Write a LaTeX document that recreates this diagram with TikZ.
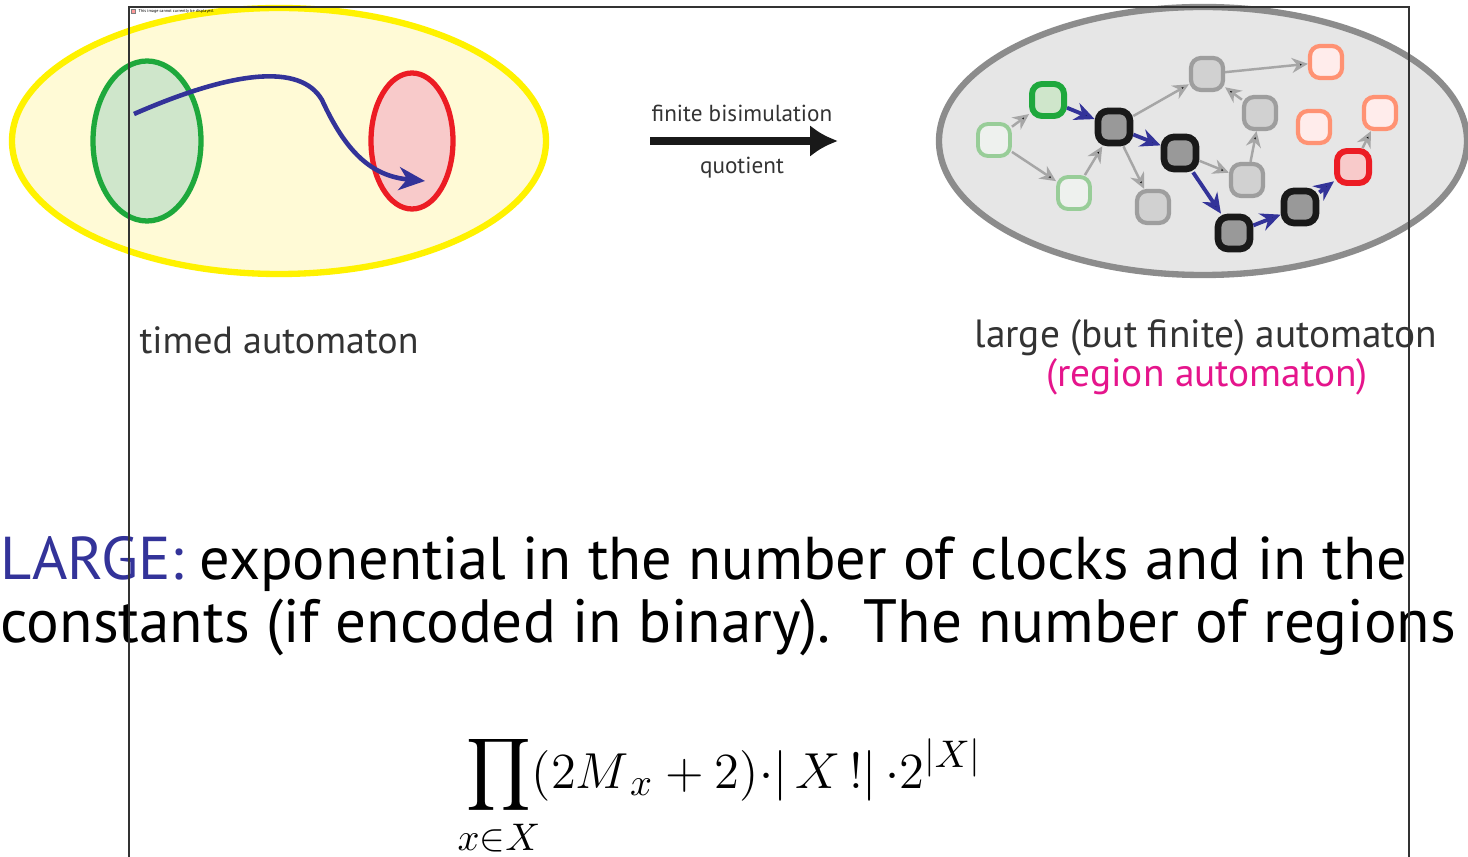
\documentclass[tikz,border=0pt]{standalone}
\usepackage{fontspec}
\setmainfont{PT Sans}
\usepackage{amsmath}
\usetikzlibrary{arrows.meta}

\definecolor{taBlue}{HTML}{333399}
\definecolor{taYellow}{HTML}{FFF200}
\definecolor{taCream}{HTML}{FFFAD6}
\definecolor{taGreen}{HTML}{1EA83C}
\definecolor{taMint}{HTML}{CFE6CB}
\definecolor{taRed}{HTML}{EC1C24}
\definecolor{taPink}{HTML}{F8CACA}
\definecolor{raGrey}{HTML}{8C8C8C}
\definecolor{raFill}{HTML}{E6E6E6}
\definecolor{txtGrey}{HTML}{333333}
\definecolor{raMagenta}{HTML}{E5158C}

\begin{document}
\begin{tikzpicture}[x=0.1mm, y=-0.1mm,
    st/.style = {draw, rounded corners=1.0mm, minimum size=3.2mm, inner sep=0pt},
    lgreen/.style = {st, draw=green!35!gray!60, fill=green!8!gray!12, line width=1.1pt},
    init/.style = {st, draw=taGreen, fill=taMint, line width=1.7pt},
    blk/.style = {st, draw=black!90, fill=black!40, line width=1.9pt},
    gry/.style = {st, draw=black!38, fill=black!18, line width=1.2pt},
    fin/.style = {st, draw=taRed, fill=taPink, line width=1.7pt},
    orng/.style = {st, draw=orange!45!red!55!white, fill=orange!12!red!8!white, line width=1.2pt},
    gline/.style = {draw=black!35, line width=0.7pt, -{Stealth[length=1.6mm,width=1.5mm]}},
    bline/.style = {draw=taBlue, line width=1.1pt, -{Stealth[length=2mm,width=1.8mm]}},
    lbl/.style = {text=txtGrey, inner sep=0pt}]
\useasboundingbox (0,0) rectangle (1468,857);

% timed automaton
\draw[taYellow, fill=taCream, line width=1.8pt] (279,141) ellipse [x radius=267, y radius=133];
\draw[taGreen, fill=taMint, line width=1.5pt] (147,141) ellipse [x radius=54, y radius=80];
\draw[taRed, fill=taPink, line width=1.5pt] (412,141) ellipse [x radius=41, y radius=68];
\coordinate (run) at (134,114);
\coordinate (goal) at (425,181);
\draw[taBlue, line width=1.3pt, -{Stealth[length=2.6mm,width=2.3mm,inset=0.8mm]}]
    (run) .. controls (230,72) and (300,62) .. (322,100)
    .. controls (345,150) and (370,176) .. (goal);
\node[lbl, font=\fontsize{10.8}{12}\selectfont] (ta) at (279,340) {timed automaton};

% quotient arrow
\coordinate (qfrom) at (650,141);
\coordinate (qto) at (838,141);
\draw[black!90, line width=2.4pt, -{Latex[length=2.8mm,width=3.2mm]}] (qfrom) -- (qto);
\node[lbl, font=\fontsize{6.6}{8}\selectfont] (bisim) at (742,113) {finite bisimulation};
\node[lbl, font=\fontsize{6.6}{8}\selectfont] (quot) at (742,168) {quotient};

% region automaton
\draw[raGrey, fill=raFill, line width=1.8pt] (1203,141) ellipse [x radius=264, y radius=134];
\node[lgreen] (A) at (994,140) {};
\node[init] (B) at (1048,100) {};
\node[lgreen] (C) at (1074,193) {};
\node[blk] (D) at (1114,127) {};
\node[gry] (E) at (1153,207) {};
\node[gry] (F) at (1207,74) {};
\node[blk] (G) at (1180,153) {};
\node[gry] (H) at (1260,113) {};
\node[gry] (I) at (1247,180) {};
\node[blk] (J) at (1234,233) {};
\node[blk] (K) at (1300,207) {};
\node[fin] (L) at (1353,167) {};
\node[orng] (M) at (1326,62) {};
\node[orng] (N) at (1314,127) {};
\node[orng] (O) at (1380,113) {};

\path[gline] (A) edge (B);
\path[gline] (A) edge (C);
\path[gline] (C) edge (D);
\path[gline] (D) edge (F);
\path[gline] (D) edge (E);
\path[gline] (G) edge (I);
\path[gline] (I) edge (H);
\path[gline] (H) edge (F);
\path[gline] (F) edge (M);
\path[gline] (L) edge (O);

\path[bline] (B) edge (D);
\path[bline] (D) edge (G);
\path[bline] (G) edge (J);
\path[bline] (J) edge (K);
\path[bline] (K) edge (L);

\node[lbl, font=\fontsize{11.2}{12}\selectfont] (large) at (1206,338) {large (but finite) automaton};
\node[lbl, text=raMagenta, font=\fontsize{11.2}{12}\selectfont] (region) at (1207,377) {(region automaton)};

% text below
\node[anchor=base west, inner sep=0pt, font=\fontsize{17.2}{20}\selectfont] (line1) at (0,580)
    {\textcolor{taBlue}{LARGE:} exponential in the number of clocks and in the};
\node[anchor=base west, inner sep=0pt, font=\fontsize{17.4}{20}\selectfont] (line2) at (0,642)
    {constants (if encoded in binary).\ \ The number of regions};
\node[anchor=base west, inner sep=0pt, font=\fontsize{15}{17}\selectfont] (count) at (457,788)
    {$\displaystyle\prod_{x\in X}\!(2M_{\,x}+2){\cdot}|\,X\,!|\,{\cdot}2^{|X|}$};

% frame of the missing picture
\node[anchor=west, inner sep=0pt, font=\fontsize{1.2}{1.4}\selectfont] (noimg) at (138,11)
    {This image cannot currently be displayed.};
\draw[black!50, line width=0.15pt, fill=red!40] (131,9) rectangle (135,13);
\draw[black!80, line width=0.45pt] (129,857) |- (1409,7) -- (1409,857);
\end{tikzpicture}
\end{document}
